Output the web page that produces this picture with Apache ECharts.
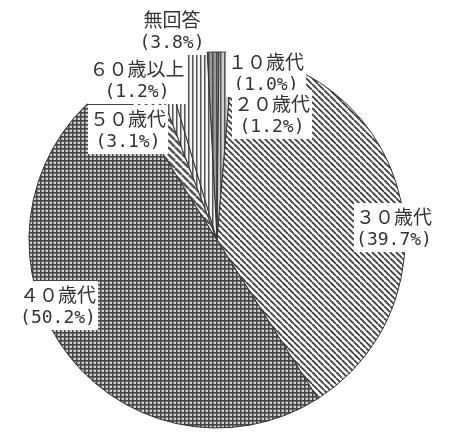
<!DOCTYPE html>
<html>
<head>
<meta charset="utf-8">
<script src="https://cdn.jsdelivr.net/npm/echarts@6/dist/echarts.min.js"></script>
<style>
html,body{margin:0;padding:0;background:#fff;}
#c{width:453px;height:433px;}
</style>
</head>
<body>
<div id="c"></div>
<script>
const categories = ['１０歳代', '２０歳代', '３０歳代', '４０歳代', '５０歳代', '６０歳以上', '無回答'];
const values = [1.0, 1.2, 39.7, 50.2, 3.1, 1.2, 3.8];

function pattern(kind) {
  const c = document.createElement('canvas');
  let ctx;
  if (kind === 'diag' || kind === 'diag2') {
    const s = kind === 'diag' ? 6 : 7;
    c.width = s; c.height = s;
    ctx = c.getContext('2d');
    ctx.fillStyle = '#fff'; ctx.fillRect(0, 0, s, s);
    ctx.strokeStyle = kind === 'diag' ? '#3a3a3a' : '#555';
    ctx.lineWidth = kind === 'diag' ? 1.7 : 2.6;
    for (let o = -s; o <= s; o += s) {
      ctx.beginPath(); ctx.moveTo(o, 0); ctx.lineTo(o + s, s); ctx.stroke();
    }
  } else if (kind === 'grid') {
    c.width = 4; c.height = 4;
    ctx = c.getContext('2d');
    ctx.fillStyle = '#d0d0d0'; ctx.fillRect(0, 0, 4, 4);
    ctx.fillStyle = '#444';
    ctx.fillRect(0, 0, 4, 1.6);
    ctx.fillRect(0, 0, 1.5, 4);
  } else {
    c.width = 4; c.height = 4;
    ctx = c.getContext('2d');
    const bg = kind === 'vdark' ? '#9a9a9a' : (kind === 'vmid' ? '#d0d0d0' : '#f4f4f4');
    const fg = kind === 'vdark' ? '#4a4a4a' : '#555';
    ctx.fillStyle = bg; ctx.fillRect(0, 0, 4, 4);
    ctx.fillStyle = fg; ctx.fillRect(0, 0, 1.5, 4);
  }
  return { image: c, repeat: 'repeat' };
}

const fills = [pattern('vdark'), pattern('vmid'), pattern('diag'), pattern('grid'), pattern('diag2'), pattern('vlight'), pattern('vlight')];
const labelAnchors = [[266, 48], [272, 90], [394, 203], [58, 281], [128, 105], [137, 55], [172, 6]];

const chart = echarts.init(document.getElementById('c'), null, { renderer: 'canvas' });
chart.setOption({
  animation: false,
  backgroundColor: '#fff',
  series: [{
    type: 'pie',
    center: [217, 240],
    radius: 188,
    startAngle: 93,
    clockwise: true,
    avoidLabelOverlap: false,
    data: categories.map((n, i) => ({
      name: n,
      value: values[i],
      itemStyle: { color: fills[i] }
    })),
    itemStyle: { borderColor: '#333', borderWidth: 1 },
    label: {
      show: true,
      position: 'outside',
      formatter: p => '{n|' + p.name + '}\n{p|(' + values[p.dataIndex].toFixed(1) + '%)}',
      backgroundColor: '#fff',
      padding: [1, 2, 0, 2],
      align: 'center',
      rich: {
        n: { fontFamily: 'Noto Sans CJK JP', fontSize: 19, color: '#333', lineHeight: 25, align: 'center' },
        p: { fontFamily: 'DejaVu Sans Mono', fontSize: 18, color: '#333', lineHeight: 23, align: 'center' }
      }
    },
    labelLine: { show: false },
    labelLayout: p => ({
      x: labelAnchors[p.dataIndex][0],
      y: labelAnchors[p.dataIndex][1],
      align: 'center',
      verticalAlign: 'top',
      hideOverlap: false
    })
  }]
});
</script>
</body>
</html>
